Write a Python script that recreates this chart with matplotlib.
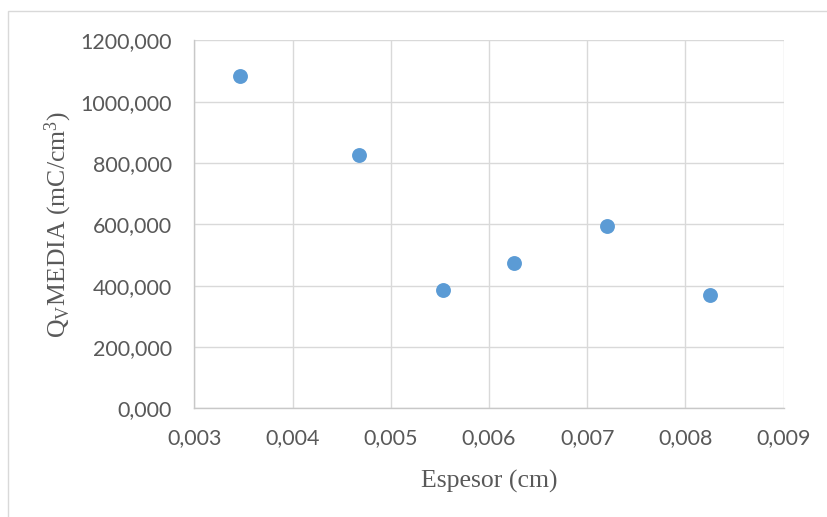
import matplotlib.pyplot as plt
from matplotlib.patches import Rectangle
from matplotlib.ticker import FuncFormatter

# Espesor (cm) y carga media por volumen (mC/cm3)
espesor = [0.003464, 0.004671, 0.005529, 0.006258, 0.007200, 0.008252]
qv_media = [1084, 827, 385, 473, 595, 369]

x_ticks = [0.003, 0.004, 0.005, 0.006, 0.007, 0.008, 0.009]
y_ticks = [0, 200, 400, 600, 800, 1000, 1200]

plt.rcParams['mathtext.fontset'] = 'custom'
plt.rcParams['mathtext.rm'] = 'Liberation Serif'
plt.rcParams['mathtext.it'] = 'Liberation Serif:italic'

gris = '#595959'

fig = plt.figure(figsize=(8.28, 5.17), dpi=100)
ax = fig.add_axes([0.2348, 0.2102, 0.9465 - 0.2348, 0.922 - 0.2102])

# marco del gráfico
fig.patches.append(Rectangle((8 / 828, -0.1), 1.2, (517 - 11) / 517 + 0.1,
                             transform=fig.transFigure, fill=False,
                             edgecolor='#D9D9D9', linewidth=1.0))

ax.scatter(espesor, qv_media, s=115, color='#5B9BD5', zorder=3, linewidths=0)

ax.set_xlim(0.003, 0.009)
ax.set_ylim(0, 1200)
ax.set_xticks(x_ticks)
ax.set_yticks(y_ticks)
ax.xaxis.set_major_formatter(FuncFormatter(lambda v, p: f'{v:.3f}'.replace('.', ',')))
ax.yaxis.set_major_formatter(FuncFormatter(lambda v, p: f'{v:.3f}'.replace('.', ',')))

ax.grid(True, color='#D9D9D9', linewidth=1.0)
ax.set_axisbelow(True)
for side in ['top', 'right']:
    ax.spines[side].set_visible(False)
for side in ['left', 'bottom']:
    ax.spines[side].set_color('#C8C8C8')
    ax.spines[side].set_linewidth(1.0)

ax.tick_params(length=0, labelsize=15.5, labelcolor=gris)
ax.tick_params(axis='x', pad=14)
ax.tick_params(axis='y', pad=16)
for lbl in ax.get_xticklabels() + ax.get_yticklabels():
    lbl.set_fontfamily('Lato')

ax.set_xlabel('Espesor (cm)', fontfamily='Liberation Serif', fontsize=18.5,
              color=gris, labelpad=16)
ax.set_ylabel(r'Q$_\mathrm{V}$MEDIA (mC/cm$^\mathrm{3}$)', fontfamily='Liberation Serif',
              fontsize=18.5, color=gris, labelpad=5)

fig.savefig('out.png', dpi=100, facecolor='white')
